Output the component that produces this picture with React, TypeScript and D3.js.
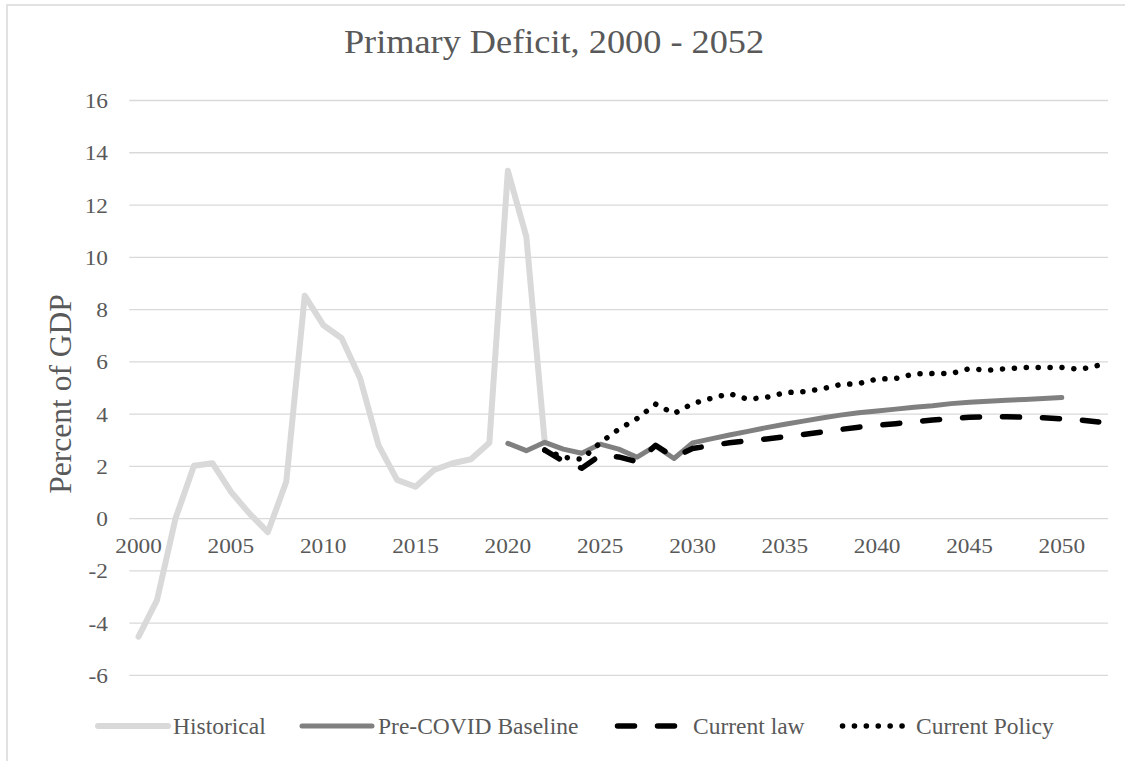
import React from "react";
import * as d3 from "d3";

// Fiscal years shown on the category axis
const years: number[] = d3.range(2000, 2053);
const yearTickLabels: number[] = [2000, 2005, 2010, 2015, 2020, 2025, 2030, 2035, 2040, 2045, 2050];
const valueTicks: number[] = [-6, -4, -2, 0, 2, 4, 6, 8, 10, 12, 14, 16];

// Primary deficit, percent of GDP
const historicalStart = 2000;
const historical: number[] = [
  -4.52, -3.12, 0.0, 2.02, 2.12, 1.03, 0.2, -0.52, 1.41, 8.53, 7.41, 6.9, 5.37, 2.8, 1.48, 1.22,
  1.86, 2.12, 2.27, 2.9, 13.31, 10.79, 2.9,
];

const preCovidStart = 2020;
const preCovid: number[] = [
  2.88, 2.6, 2.92, 2.66, 2.5, 2.85, 2.66, 2.35, 2.78, 2.3, 2.9, 3.05, 3.2, 3.34, 3.48, 3.61, 3.73,
  3.85, 3.96, 4.05, 4.12, 4.19, 4.26, 4.32, 4.4, 4.45, 4.49, 4.53, 4.56, 4.6, 4.63,
];

const currentLawStart = 2022;
const currentLaw: number[] = [
  2.62, 2.2, 1.93, 2.42, 2.36, 2.18, 2.8, 2.35, 2.68, 2.8, 2.9, 2.98, 3.05, 3.13, 3.22, 3.31, 3.41,
  3.5, 3.57, 3.63, 3.7, 3.77, 3.83, 3.88, 3.9, 3.9, 3.88, 3.86, 3.82, 3.77, 3.7,
];

const currentPolicyStart = 2022;
const currentPolicy: number[] = [
  2.62, 2.35, 2.27, 2.9, 3.42, 3.83, 4.38, 4.02, 4.4, 4.6, 4.78, 4.57, 4.64, 4.82, 4.86, 4.96, 5.13,
  5.17, 5.34, 5.36, 5.54, 5.55, 5.55, 5.74, 5.68, 5.74, 5.78, 5.78, 5.78, 5.71, 5.87,
];

const seriesNames: string[] = ["Historical", "Pre-COVID Baseline", "Current law", "Current Policy"];

const W = 1125;
const H = 761;
const FONT = "'Liberation Serif', 'Times New Roman', serif";
const TEXT = "#595959";
const GRID = "#d9d9d9";

type Style = { color: string; width: number; dash?: string };
const styles: Style[] = [
  { color: "#d9d9d9", width: 6 },
  { color: "#808080", width: 5 },
  { color: "#000000", width: 5.5, dash: "17 23" },
  { color: "#000000", width: 5.5, dash: "0.1 11.8" },
];

export default function App() {
  const x = d3.scalePoint<number>().domain(years).range([129.3, 1108]).padding(0.5);
  const y = d3.scaleLinear().domain([-6, 16]).range([675.4, 100.5]);

  const toPoints = (start: number, vals: number[]) =>
    vals.map((v, i) => ({ year: start + i, v }));

  const line = d3
    .line<{ year: number; v: number }>()
    .x((d) => x(d.year) as number)
    .y((d) => y(d.v));

  const series = [
    toPoints(historicalStart, historical),
    toPoints(preCovidStart, preCovid),
    toPoints(currentLawStart, currentLaw),
    toPoints(currentPolicyStart, currentPolicy),
  ];

  const legendItems = [
    { x1: 98, x2: 168, tx: 173 },
    { x1: 302, x2: 372, tx: 378 },
    { x1: 615, x2: 680, tx: 693 },
    { x1: 840, x2: 905, tx: 916 },
  ];

  return (
    <svg
      width={W}
      height={H}
      viewBox={`0 0 ${W} ${H}`}
      style={{ position: "absolute", left: 0, top: 0, background: "#fff" }}
      fontFamily={FONT}
    >
      <rect x={0} y={0} width={W} height={H} fill="#fff" />
      {/* chart frame */}
      <rect x={7} y={5} width={W + 50} height={H + 50} fill="none" stroke={GRID} strokeWidth={1.5} />

      {/* title */}
      <g transform={`translate(554, 53) scale(1.1, 1)`}>
        <text x={0} y={0} fontSize={33} fill={TEXT} textAnchor="middle">
          Primary Deficit, 2000 - 2052
        </text>
      </g>

      {/* axis title */}
      <text
        transform={`translate(71, ${(y(16) + y(-6)) / 2 + 6}) rotate(-90)`}
        fontSize={31.5}
        fill={TEXT}
        textAnchor="middle"
      >
        Percent of GDP
      </text>

      {/* gridlines and value labels */}
      {valueTicks.map((t) => (
        <g key={t}>
          <line x1={129.3} x2={1108} y1={y(t)} y2={y(t)} stroke={GRID} strokeWidth={1.3} />
          <g transform={`translate(108, ${y(t) + 7.5}) scale(1.06, 1)`}>
            <text x={0} y={0} fontSize={22} fill={TEXT} textAnchor="end">
              {t}
            </text>
          </g>
        </g>
      ))}

      {/* category labels */}
      {yearTickLabels.map((yr) => (
        <g key={yr} transform={`translate(${x(yr)}, 553) scale(1.06, 1)`}>
          <text x={0} y={0} fontSize={22} fill={TEXT} textAnchor="middle">
            {yr}
          </text>
        </g>
      ))}

      {/* series */}
      {series.map((pts, i) => (
        <path
          key={seriesNames[i]}
          d={line(pts) ?? ""}
          fill="none"
          stroke={styles[i].color}
          strokeWidth={styles[i].width}
          strokeDasharray={styles[i].dash}
          strokeLinecap="round"
          strokeLinejoin="round"
        />
      ))}

      {/* legend */}
      {legendItems.map((it, i) => (
        <g key={seriesNames[i]}>
          <line
            x1={it.x1 + (styles[i].dash ? 2.5 : 0)}
            x2={it.x2}
            y1={726}
            y2={726}
            stroke={styles[i].color}
            strokeWidth={styles[i].width}
            strokeDasharray={styles[i].dash}
            strokeLinecap="round"
          />
          <text x={it.tx} y={734} fontSize={23.5} fill={TEXT}>
            {seriesNames[i]}
          </text>
        </g>
      ))}
    </svg>
  );
}
